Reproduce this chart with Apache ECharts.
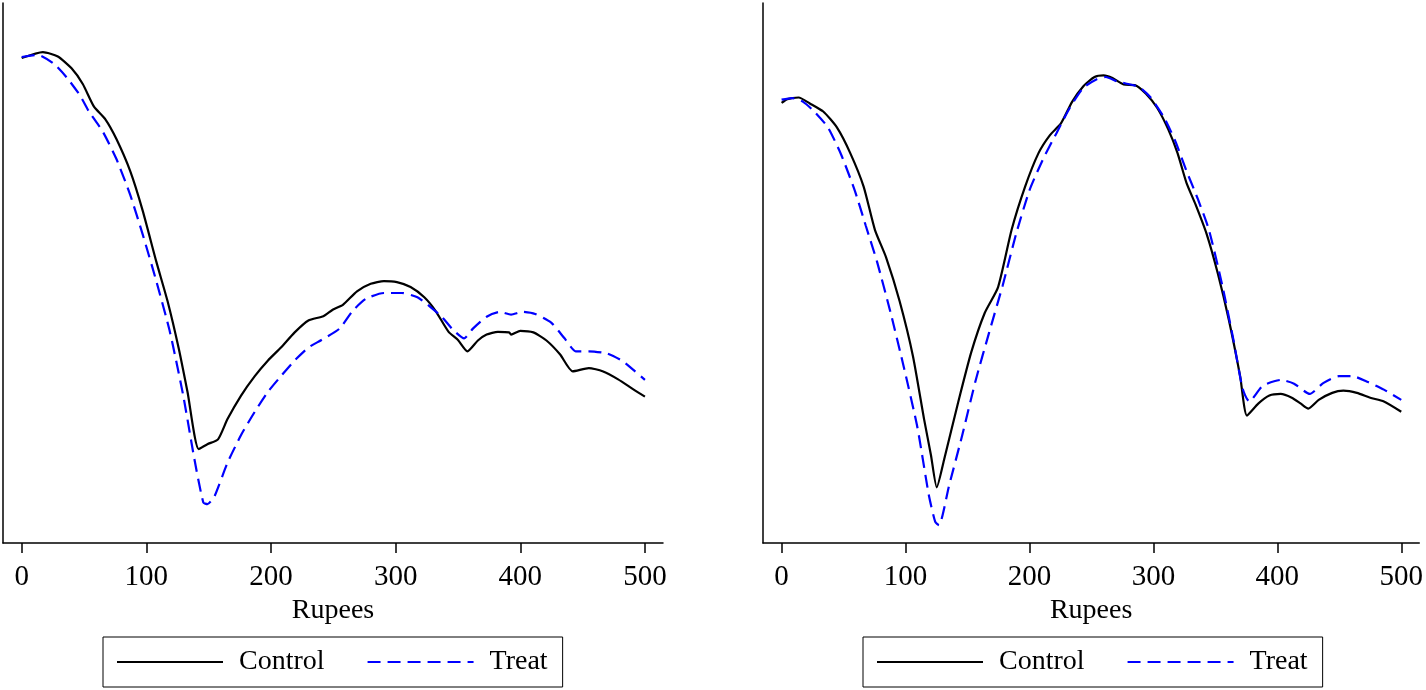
<!DOCTYPE html>
<html>
<head>
<meta charset="utf-8">
<script src="https://cdn.jsdelivr.net/npm/echarts@6/dist/echarts.min.js"></script>
<style>
html,body{margin:0;padding:0;background:#fff;}
#chart{width:1426px;height:690px;}
</style>
</head>
<body>
<div id="chart"></div>
<script>
// x tick labels (Rupees)
var xTicks = [0, 100, 200, 300, 400, 500];
var seriesNames = ['Control', 'Treat'];

// Left panel - Control
var leftControlX = [0,17,29,40,49,58,67,76,87,97,108,117,126,133,142,149,157.5,165,176,187,197.6,208,219,230,242,249.5,257.7,269,280,290.6,301,312,323,332,342.5,350,357.6,366,373,382,391,392.6,400,410.5,421,432,442,455,466,478.5,491,500];
var leftControlY = [89.8,90.9,90.1,87.9,85.0,80.8,78.5,74.8,68.9,61.6,52.1,44.8,36.0,28.0,17.4,18.3,19.2,22.9,27.3,30.9,33.8,36.2,39.0,41.2,42.0,43.2,44.1,46.6,48.0,48.5,48.3,47.4,45.5,43.0,39.1,37.6,35.5,37.5,38.6,39.1,39.0,38.6,39.3,39.0,37.5,34.9,31.8,32.4,31.8,30.3,28.4,27.1];

// Left panel - Treat
var leftTreatX = [0,13,26,36.5,47,54,65,76,87,97,108,119,129.6,138.5,145.7,149,154.6,165,176,187,197.6,208,219,230,240.5,255,265.6,276,290.6,305,317.5,328,337,346,355,362,373,383.6,392.6,401.7,412,424.8,435.5,444.5,455,469.5,482,491,500];
var leftTreatY = [90.0,90.4,88.7,86.1,82.8,79.9,76.2,71.1,64.5,57.2,48.5,39.0,27.3,15.6,7.5,7.2,8.6,14.8,20.0,24.3,28.0,30.9,33.8,36.2,37.6,39.7,43.0,45.2,46.3,46.3,45.5,43.7,41.9,39.5,37.9,39.7,41.9,42.8,42.3,42.8,42.4,40.8,37.9,35.5,35.5,35.1,33.7,32.0,30.2];

// Right panel - Control
var rightControlX = [0,4.7,13.7,22.8,33.6,44.5,55.4,66.2,75.3,84.3,95.2,106,115,120.5,125.2,131.3,142.2,153,163.9,174.7,185.6,196.5,207.3,216.4,225.4,234.4,243.5,252.5,259.8,267,276,285,294,303,312,319.5,326.7,334,343,352,361,370,375.5,384.6,393.6,402.7,411.7,419,425,433.4,444.3,453.3,464.2,475,486,500];
var rightControlY = [81.5,82.2,82.5,81.4,79.9,77.0,72.2,66.0,58.0,52.9,44.8,34.6,22.9,16.3,10.3,15.6,25.8,35.3,42.6,47.4,58.0,66.0,72.2,75.5,77.7,81.7,84.6,86.3,86.6,86.1,84.9,84.8,83.2,80.6,76.6,72.2,66.7,62.7,57.2,49.9,41.2,30.9,23.6,25.8,27.3,27.6,26.9,25.8,24.9,26.5,27.8,28.2,27.8,26.9,26.2,24.3];

// Right panel - Treat
var rightTreatX = [0,8.3,17.4,26.4,37.3,48.1,59,68,77,88,98.8,109.6,118.7,124,127,135,145.8,156.7,167.5,178.4,189.2,200,211,221.8,232.6,243.5,254.3,261.6,270.6,279.7,288.7,297.8,308.6,317.7,326.7,335.7,344.8,355.6,364.7,371.9,377.4,388.2,402.7,413.5,426.2,437,449.7,460.6,473.2,486,500];
var rightTreatY = [82.1,82.4,81.7,79.9,77.0,71.9,65.3,58.7,52.1,42.6,32.4,21.4,9.0,3.9,3.3,10.5,20.0,30.2,39.0,47.7,57.2,65.3,71.1,75.9,80.6,84.3,85.9,86.3,85.5,85.0,84.4,82.5,78.8,74.4,68.9,63.8,58.0,47.7,37.5,28.7,26.2,29.1,30.2,29.5,27.6,29.6,30.9,30.9,29.8,28.4,26.5];

function pairs(xs, ys) {
  return xs.map(function (x, i) { return [x, ys[i]]; });
}

var FONT = 'Liberation Serif';

function makeXAxis(idx) {
  return {
    type: 'value', gridIndex: idx, min: -15, max: 514.5,
    name: 'Rupees', nameLocation: 'middle', nameGap: 51,
    nameTextStyle: { fontFamily: FONT, fontSize: 28, color: '#000' },
    axisLine: { show: true, onZero: false, lineStyle: { color: '#000', width: 1.5 } },
    axisTick: { show: true, length: 10, customValues: xTicks, lineStyle: { color: '#000', width: 1.5 } },
    axisLabel: { show: true, customValues: xTicks, margin: 20, fontFamily: FONT, fontSize: 29, color: '#000' },
    splitLine: { show: false }
  };
}
function makeYAxis(idx) {
  return {
    type: 'value', gridIndex: idx, min: 0, max: 100,
    axisLine: { show: true, onZero: false, lineStyle: { color: '#000', width: 1.5 } },
    axisTick: { show: false }, axisLabel: { show: false }, splitLine: { show: false }
  };
}
function makeSeries(name, idx, data, dashed) {
  return {
    name: name, type: 'line', xAxisIndex: idx, yAxisIndex: idx,
    data: data, showSymbol: false, symbol: 'none',
    smooth: 0.2,
    lineStyle: dashed ? { color: '#0000ff', width: 2.2, type: [13, 7] } : { color: '#000', width: 2.2, type: 'solid' },
    itemStyle: { color: dashed ? '#0000ff' : '#000' },
    z: dashed ? 3 : 2,
    animation: false
  };
}
function makeLegend(left) {
  return {
    left: left, top: 637, orient: 'horizontal',
    data: seriesNames.map(function (n) { return { name: n, itemStyle: { opacity: 0 } }; }),
    selectedMode: false,
    borderColor: '#000', borderWidth: 1, borderRadius: 0,
    padding: [10, 15, 10, 13],
    itemWidth: 106, itemHeight: 14, itemGap: 42,
    textStyle: { fontFamily: FONT, fontSize: 28, color: '#000', lineHeight: 30, padding: [0, 0, 0, 11] }
  };
}

var chart = echarts.init(document.getElementById('chart'), null, { renderer: 'canvas' });
chart.setOption({
  backgroundColor: '#fff',
  animation: false,
  grid: [
    { left: 3, top: 3, width: 660, height: 540 },
    { left: 763, top: 3, width: 659, height: 540 }
  ],
  xAxis: [makeXAxis(0), makeXAxis(1)],
  yAxis: [makeYAxis(0), makeYAxis(1)],
  legend: [makeLegend(103), makeLegend(863)],
  series: [
    makeSeries('Control', 0, pairs(leftControlX, leftControlY), false),
    makeSeries('Treat', 0, pairs(leftTreatX, leftTreatY), true),
    makeSeries('Control', 1, pairs(rightControlX, rightControlY), false),
    makeSeries('Treat', 1, pairs(rightTreatX, rightTreatY), true)
  ]
});
</script>
</body>
</html>
